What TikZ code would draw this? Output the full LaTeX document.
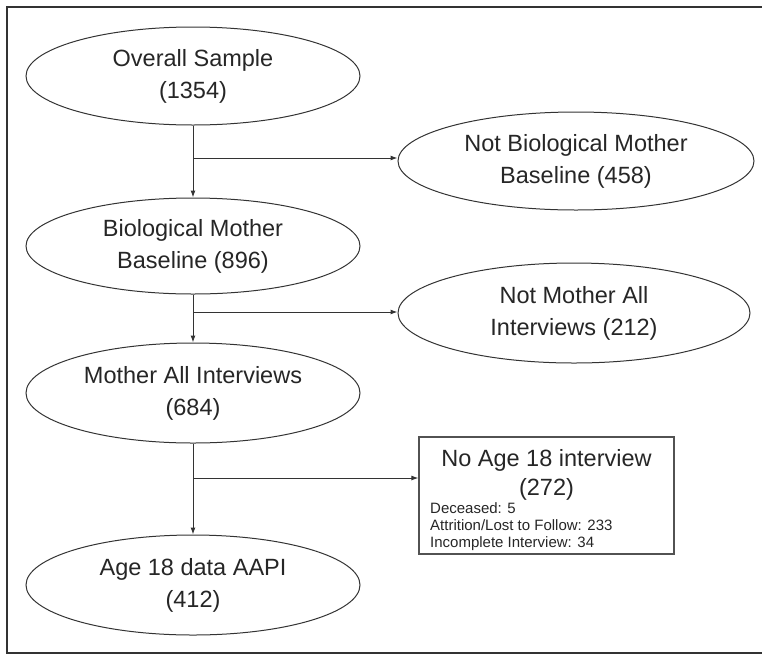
\documentclass[tikz,border=0pt]{standalone}
\usepackage{fontspec}
\setmainfont{Liberation Sans}
\usetikzlibrary{shapes.geometric,arrows.meta}
\definecolor{ink}{HTML}{262626}
\definecolor{edge}{HTML}{333333}
\begin{document}
\begin{tikzpicture}[x=1pt,y=-1pt,
  oval/.style={ellipse,draw=edge,line width=1pt,inner sep=0pt,text=ink,align=center,
    font=\fontsize{23.5}{32}\selectfont},
  flow/.style={draw=edge,line width=1pt,-{Latex[length=7pt,width=5pt]}}]
\useasboundingbox (0,0) rectangle (762,654);
% frame
\draw[edge,line width=2pt] (764,7) -- (7,7) -- (7,653) -- (764,653);
% nodes
\node[oval,minimum width=334pt,minimum height=98pt] (os) at (193,76) {Overall Sample\\(1354)};
\node[oval,minimum width=356pt,minimum height=98pt] (nbm) at (576,161) {Not Biological Mother\\Baseline (458)};
\node[oval,minimum width=334pt,minimum height=96pt] (bm) at (193,246) {Biological Mother\\Baseline (896)};
\node[oval,minimum width=352pt,minimum height=100pt] (nma) at (574,313) {Not Mother All\\Interviews (212)};
\node[oval,minimum width=334pt,minimum height=100pt] (ma) at (193,393) {Mother All Interviews\\(684)};
\node[oval,minimum width=334pt,minimum height=100pt] (a18) at (193,585) {Age 18 data AAPI\\(412)};
\node[draw=edge!85,line width=1.2pt,minimum width=255pt,minimum height=117pt,inner sep=0pt] (box) at (546.5,495.5) {};
\node[text=ink,align=center,font=\fontsize{23.5}{29}\selectfont,anchor=north] (boxtitle) at (546.5,446) {No Age 18 interview\\(272)};
\node[text=ink,align=left,font=\fontsize{15}{17}\selectfont,anchor=north west,inner sep=0pt] (boxdetail) at (430,502) {Deceased: 5\\Attrition/Lost to Follow: 233\\Incomplete Interview: 34};
% junctions
\coordinate (j1) at (os.south |- 0,158);
\coordinate (j2) at (bm.south |- 0,312);
\coordinate (j3) at (ma.south |- 0,478);
% connectors
\draw[flow] (os.south) -- (bm.north);
\draw[flow] (j1) -- (j1 -| nbm.west);
\draw[flow] (bm.south) -- (ma.north);
\draw[flow] (j2) -- (j2 -| nma.west);
\draw[flow] (ma.south) -- (a18.north);
\draw[flow] (j3) -- (j3 -| box.west);
\end{tikzpicture}
\end{document}
